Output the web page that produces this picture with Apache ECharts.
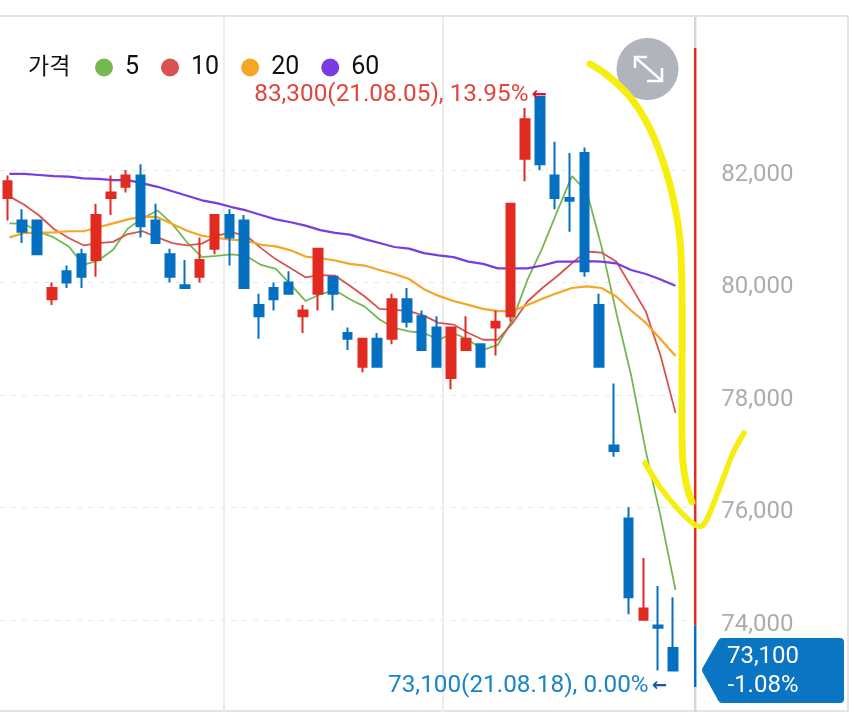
<!DOCTYPE html>
<html>
<head>
<meta charset="utf-8">
<style>
  html, body { margin: 0; padding: 0; background: #fff; }
  #chart { width: 850px; height: 713px; }
</style>
<script src="https://cdn.jsdelivr.net/npm/echarts@6/dist/echarts.min.js"></script>
</head>
<body>
<div id="chart"></div>
<script>
// trading days, last one is blank so the plot runs on up to the price bar
const categories = [
  '21.06.16', '21.06.17', '21.06.18', '21.06.21', '21.06.22', '21.06.23', '21.06.24', '21.06.25',
  '21.06.28', '21.06.29', '21.06.30', '21.07.01', '21.07.02', '21.07.05', '21.07.06', '21.07.07',
  '21.07.08', '21.07.09', '21.07.12', '21.07.13', '21.07.14', '21.07.15', '21.07.16', '21.07.19',
  '21.07.20', '21.07.21', '21.07.22', '21.07.23', '21.07.26', '21.07.27', '21.07.28', '21.07.29',
  '21.07.30', '21.08.02', '21.08.03', '21.08.04', '21.08.05', '21.08.06', '21.08.09', '21.08.10',
  '21.08.11', '21.08.12', '21.08.13', '21.08.16', '21.08.17', '21.08.18', ''
]

// open, close, low, high
const candles = [
  [81500, 81800, 81100, 81900], [81100, 80900, 80700, 81300], [81100, 80500, 80500, 81100],
  [79700, 79900, 79600, 80000], [80200, 80000, 79900, 80300], [80500, 80100, 79900, 80600],
  [80400, 81200, 80100, 81400], [81500, 81600, 81200, 81900], [81700, 81900, 81600, 82000],
  [81900, 81000, 80800, 82100], [81100, 80700, 80700, 81400], [80500, 80100, 80000, 80600],
  [79950, 79900, 79900, 80400], [80100, 80400, 80000, 80800], [80600, 81200, 80500, 81200],
  [81200, 80800, 80300, 81300], [81100, 79900, 79900, 81200], [79600, 79400, 79000, 79800],
  [79900, 79700, 79500, 80000], [80000, 79800, 79800, 80200], [79400, 79500, 79100, 79600],
  [79800, 80600, 79500, 80600], [80100, 79800, 79500, 80100], [79100, 79000, 78800, 79200],
  [78500, 79000, 78400, 79000], [79000, 78500, 78500, 79100], [79000, 79700, 78900, 79800],
  [79700, 79300, 79200, 79900], [79400, 78800, 78800, 79500], [79200, 78500, 78500, 79400],
  [78300, 79200, 78100, 79200], [78800, 79000, 78800, 79400], [78900, 78500, 78500, 78900],
  [79200, 79300, 78700, 79500], [79400, 81400, 79300, 81400], [82200, 82900, 81800, 83100],
  [83300, 82100, 82000, 83300], [81900, 81500, 81300, 82500], [81500, 81450, 80900, 82300],
  [82300, 80200, 80100, 82400], [79600, 78500, 78500, 79800], [77100, 77000, 76900, 78200],
  [75800, 74400, 74100, 76000], [74000, 74200, 74000, 75100], [73900, 73860, 73100, 74600],
  [73500, 73100, 73100, 74400]
]

const ma5 = [
  81050, 81040, 80900, 80800, 80640, 80310, 80390, 80580, 80960, 81140, 81280, 81040, 80710, 80450, 80470, 80500,
  80470, 80310, 80240, 79960, 79670, 79790, 79860, 79700, 79570, 79340, 79190, 79130, 79100, 78980, 79100, 78980,
  78800, 78890, 79340, 80050, 80610, 81260, 81890, 81620, 80640, 79460, 78350, 76990, 75830, 74530
]
const ma10 = [
  81530, 81380, 81190, 80950, 80790, 80660, 80700, 80720, 80860, 80910, 80800, 80700, 80660, 80690, 80830, 80890,
  80830, 80610, 80410, 80250, 80090, 80130, 80120, 79940, 79750, 79530, 79510, 79490, 79410, 79280, 79250, 79100,
  78980, 78980, 79280, 79660, 79900, 80110, 80340, 80550, 80530, 80370, 79930, 79480, 78690, 77680
]
const ma20 = [
  80800, 80880, 80880, 80890, 80910, 80910, 80980, 81050, 81120, 81170, 81160, 81040, 80920, 80830, 80790, 80760,
  80740, 80670, 80640, 80570, 80460, 80430, 80390, 80330, 80300, 80220, 80150, 80060, 79880, 79760, 79670, 79600,
  79530, 79490, 79490, 79600, 79710, 79810, 79900, 79930, 79900, 79750, 79500, 79280, 78990, 78690
]
const ma60 = [
  81930, 81930, 81910, 81890, 81880, 81850, 81840, 81820, 81820, 81760, 81700, 81620, 81540, 81460, 81410, 81340,
  81280, 81200, 81120, 81070, 81010, 80930, 80880, 80850, 80770, 80700, 80630, 80600, 80520, 80480, 80450, 80370,
  80330, 80250, 80250, 80250, 80300, 80370, 80370, 80380, 80370, 80340, 80220, 80150, 80050, 79940
]

const priceTicks = [74000, 76000, 78000, 80000, 82000]
const axisMin = 72360
const axisMax = 84720

const highIndex = 36
const highLabel = '83,300(21.08.05), 13.95%'
const highPrice = 83300
const lastIndex = 45
const lastLabel = '73,100(21.08.18), 0.00%'
const lastPrice = 73100
const lastPriceText = '73,100'
const lastChangeText = '-1.08%'

// price bar on the right edge: red above the previous close, blue below it
const barRange = [84170, 73900, 72800]
const monthMarks = [15.16, 29.96]
const xSlots = 47

const UP = '#e12a20'
const DOWN = '#0570c2'
const TICK_GRAY = '#acacac'
const FONT = 'Roboto'

const chart = echarts.init(document.getElementById('chart'), null, { renderer: 'canvas' })

// the averages sit a couple of pixels right of the candles, so they get their own grid
const maLine = (name, data, color, width) => ({
  name,
  type: 'line',
  xAxisIndex: 2,
  yAxisIndex: 1,
  data,
  z: 2,
  silent: true,
  showSymbol: false,
  itemStyle: { color },
  lineStyle: { color, width }
})

const barLine = (from, to, color) => ({
  type: 'line',
  xAxisIndex: 1,
  data: [[xSlots, from], [xSlots, to]],
  z: 4,
  clip: false,
  silent: true,
  showSymbol: false,
  lineStyle: { color, width: 2.5 }
})

chart.setOption({
  animation: false,
  backgroundColor: '#fff',
  title: {
    text: '가격',
    left: 23,
    top: 49,
    textStyle: { fontFamily: 'Noto Sans CJK KR', fontSize: 23, fontWeight: 'normal', color: '#111' }
  },
  legend: {
    data: ['5', '10', '20', '60'],
    left: 90,
    top: 50,
    icon: 'circle',
    itemWidth: 18,
    itemHeight: 18,
    itemGap: 22,
    textStyle: { fontFamily: FONT, fontSize: 25, color: '#111', padding: [0, 0, 0, 7] }
  },
  grid: [
    { left: -0.4, top: 17, width: 695.6, height: 695 },
    { left: 2.1, top: 17, width: 695.6, height: 695 }
  ],
  xAxis: [
    {
      type: 'category',
      data: categories,
      axisLine: { show: false },
      axisTick: { show: false },
      axisLabel: { show: false },
      splitLine: { show: false }
    },
    {
      type: 'value',
      min: 0,
      max: xSlots,
      position: 'top',
      axisLine: { show: false },
      axisTick: { show: false, customValues: monthMarks },
      axisLabel: { show: false, customValues: monthMarks },
      splitLine: { show: true, lineStyle: { color: '#ececec', width: 2 } }
    },
    { type: 'category', gridIndex: 1, data: categories, show: false }
  ],
  yAxis: [
    {
      type: 'value',
      position: 'right',
      min: axisMin,
      max: axisMax,
      axisLine: { show: false },
      axisTick: { show: false, customValues: priceTicks },
      axisLabel: {
        customValues: priceTicks,
        margin: 26,
        verticalAlign: 'top',
        lineHeight: 10,
        color: TICK_GRAY,
        fontFamily: FONT,
        fontSize: 24,
        formatter: v => v.toLocaleString('en-US')
      },
      splitLine: { show: true, lineStyle: { color: '#e9e9e9', type: [5, 6], width: 1 } }
    },
    { type: 'value', gridIndex: 1, min: axisMin, max: axisMax, show: false, splitLine: { show: false } }
  ],
  series: [
    maLine('5', ma5, '#74b84f', 1.8),
    maLine('10', ma10, '#d9524f', 1.8),
    maLine('20', ma20, '#f5a623', 2.2),
    maLine('60', ma60, '#7a3be0', 2.2),
    barLine(axisMax, barRange[0], '#d6d6d6'),
    barLine(barRange[0], barRange[1], UP),
    barLine(barRange[1], barRange[2], DOWN),
    barLine(barRange[2], axisMin, '#d6d6d6'),
    {
      name: '가격',
      type: 'candlestick',
      data: candles,
      z: 3,
      barWidth: 9,
      itemStyle: { color: UP, color0: DOWN, borderColor: UP, borderColor0: DOWN, borderWidth: 2 },
      markPoint: {
        symbol: 'circle',
        symbolSize: 0,
        silent: true,
        data: [
          {
            coord: [categories[highIndex], highPrice],
            label: {
              position: 'left',
              offset: [12, -2],
              formatter: '{t|' + highLabel + '} {a|←}',
              rich: {
                t: { color: '#e2453e', fontFamily: FONT, fontSize: 24.3 },
                a: { color: '#e8112d', fontFamily: 'DejaVu Sans', fontSize: 18, fontWeight: 'bold' }
              }
            }
          },
          {
            coord: [categories[lastIndex], lastPrice],
            label: {
              position: 'left',
              offset: [-1, 16],
              formatter: '{t|' + lastLabel + '} {a|←}',
              rich: {
                t: { color: '#1a84c7', fontFamily: FONT, fontSize: 24.3 },
                a: { color: '#1558b0', fontFamily: 'DejaVu Sans', fontSize: 18, fontWeight: 'bold' }
              }
            }
          }
        ]
      }
    }
  ],
  graphic: [
    // frame
    {
      type: 'rect',
      z: 0,
      silent: true,
      shape: { x: -4, y: 16, width: 852, height: 695 },
      style: { fill: 'none', stroke: '#dcdcdc', lineWidth: 1.5 }
    },
    // expand button
    {
      type: 'circle',
      z: 50,
      shape: { cx: 647.5, cy: 69, r: 31 },
      style: { fill: '#afb4bd' }
    },
    {
      type: 'polyline',
      z: 51,
      shape: { points: [[635, 68], [635, 57], [647, 57]] },
      style: { fill: 'none', stroke: '#fff', lineWidth: 2.5 }
    },
    {
      type: 'polyline',
      z: 51,
      shape: { points: [[647, 81], [662, 81], [662, 68]] },
      style: { fill: 'none', stroke: '#fff', lineWidth: 2.5 }
    },
    {
      type: 'line',
      z: 51,
      shape: { x1: 636, y1: 58, x2: 661, y2: 80 },
      style: { stroke: '#fff', lineWidth: 2.5 }
    },
    // last price tag
    {
      type: 'polygon',
      z: 40,
      shape: { points: [[706, 670], [722, 642], [840, 642], [840, 699], [722, 699]] },
      style: { fill: '#0a75c2', stroke: '#0a75c2', lineWidth: 8, lineJoin: 'round' }
    },
    {
      type: 'text',
      z: 41,
      style: {
        x: 763, y: 657, text: lastPriceText, fill: '#fff', align: 'center', verticalAlign: 'middle',
        font: '24px Roboto'
      }
    },
    {
      type: 'text',
      z: 41,
      style: {
        x: 763, y: 686, text: lastChangeText, fill: '#fff', align: 'center', verticalAlign: 'middle',
        font: '24px Roboto'
      }
    },
    // yellow pen strokes drawn over the screenshot
    {
      type: 'polyline',
      z: 60,
      shape: {
        smooth: 0.35,
        points: [[590, 64], [607, 75], [630, 97], [647, 123], [660, 153], [672, 193], [680, 240], [682, 293], [682, 380], [682, 430], [683, 463], [687, 487], [692, 502]]
      },
      style: { fill: 'none', stroke: '#f6ee0f', lineWidth: 7, lineCap: 'round', lineJoin: 'round' }
    },
    {
      type: 'polyline',
      z: 60,
      shape: {
        smooth: 0.3,
        points: [[645, 463], [660, 487], [677, 508], [695, 525], [702, 526], [708, 517], [720, 487], [733, 453], [744, 433]]
      },
      style: { fill: 'none', stroke: '#f6ee0f', lineWidth: 5.5, lineCap: 'round', lineJoin: 'round' }
    }
  ]
})
</script>
</body>
</html>
